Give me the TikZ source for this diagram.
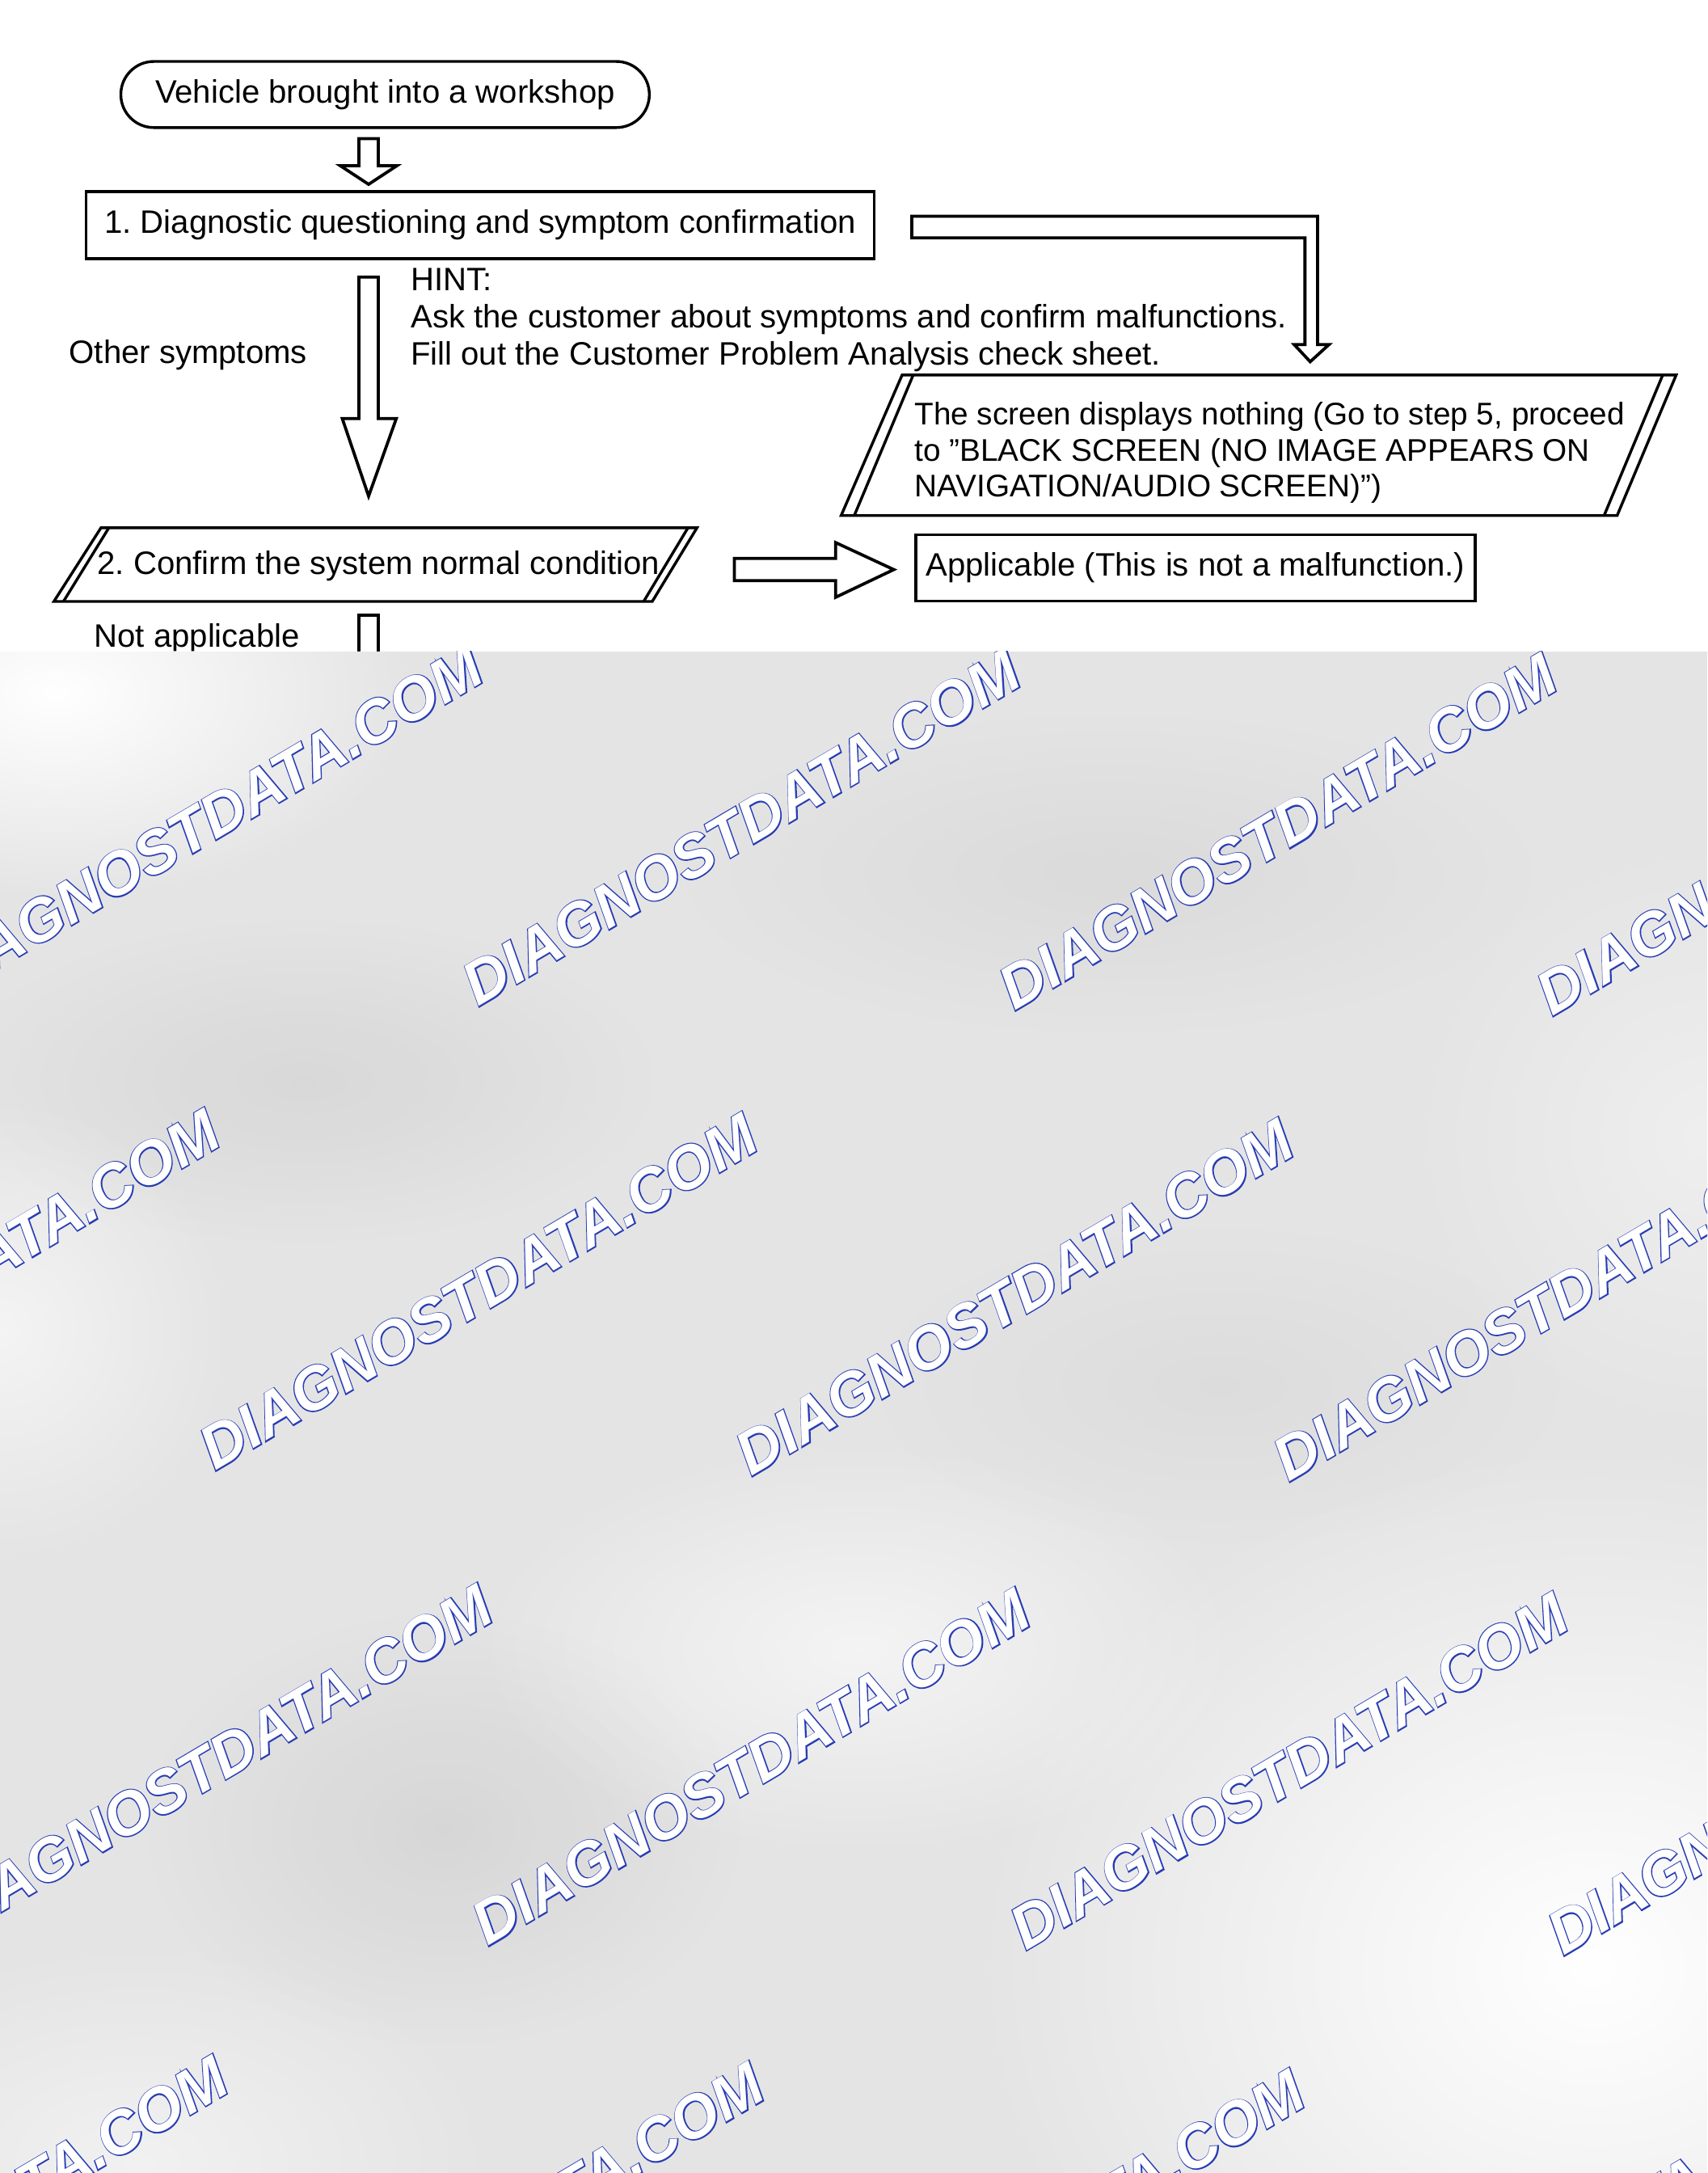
\documentclass[tikz,border=0pt]{standalone}
\usepackage{fontspec}
\setmainfont{Liberation Sans}
\newfontfamily\wmthickfont{Liberation Sans Bold Italic}[FakeBold=3.5]
\newfontfamily\wmthinfont{Liberation Sans Bold Italic}
\usetikzlibrary{fadings}
\tikzfading[name=fuzzyblob, inner color=transparent!0, outer color=transparent!100]
\definecolor{wmblue}{RGB}{40,60,180}
\definecolor{bggray}{RGB}{228,228,228}
\frenchspacing
\begin{document}
\begin{tikzpicture}[x=0.5pt,y=-0.5pt,
  every node/.style={inner sep=0pt, outer sep=0pt},
  txt/.style={font=\fontsize{11.7}{13.2}\selectfont\frenchspacing, text=black},
  boxed/.style={draw=black, line width=1pt, fill=white},
  blockarrow/.style={draw=black, line width=1.1pt, fill=white, line join=miter},
  wmouter/.style={font=\wmthickfont\fontsize{21.8}{22}\selectfont, text=wmblue, rotate=30.6},
  wminner/.style={font=\wmthinfont\fontsize{21.8}{22}\selectfont, text=white, rotate=30.6},
  lightblob/.style={fill=white, path fading=fuzzyblob},
  darkblob/.style={fill=black, path fading=fuzzyblob},
]
\useasboundingbox (0,0) rectangle (1232,1568);
\fill[white] (0,0) rectangle (1232,1568);

% terminal and boxes
\node[boxed, txt, rounded corners=11.9pt, minimum width=190.7pt, minimum height=23.85pt] (term) at (277.9,68.2) {Vehicle brought into a workshop};
\node[boxed, txt, minimum width=284.4pt, minimum height=24.15pt] (step1) at (346.6,162.5) {1. Diagnostic questioning and symptom confirmation};
\node[boxed, txt, minimum width=201.9pt, minimum height=23.95pt] (appl) at (862.7,409.7) {Applicable (This is not a malfunction.)};

% parallelogram: screen displays nothing
\draw[boxed] (651,270.6) -- (1209.6,270.6) -- (1167,372) -- (607,372) -- cycle;
\draw[line width=1pt] (659,270.6) -- (616.5,372) (1199.9,270.6) -- (1157.6,372);
\node[txt, font=\fontsize{11.3}{13}\selectfont, anchor=base west, align=left] (black) at (660,358.5) {The screen displays nothing (Go to step 5, proceed\\to ”BLACK SCREEN (NO IMAGE APPEARS ON\\NAVIGATION/AUDIO SCREEN)”)};

% parallelogram: step 2
\draw[boxed] (72.9,380.8) -- (503,380.8) -- (470.7,434) -- (38.9,434) -- cycle;
\draw[line width=1pt] (78.6,380.8) -- (45.8,434) (496.5,380.8) -- (464.5,434);
\node[txt, anchor=base west] (step2) at (70.4,414.5) {2. Confirm the system normal condition};

% labels
\node[txt, font=\fontsize{11.7}{13.5}\selectfont, anchor=base west, align=left] (hint) at (296.5,263.5) {HINT:\\Ask the customer about symptoms and confirm malfunctions.\\Fill out the Customer Problem Analysis check sheet.};
\node[txt, anchor=base west] (other) at (50,262) {Other symptoms};
\node[txt, anchor=base west] (notappl) at (68,467) {Not applicable};

% block arrows
\draw[blockarrow] (259,100) -- (273,100) -- (273,119.6) -- (286.4,119.6) -- (266,133) -- (245.6,119.6) -- (259,119.6) -- cycle;
\draw[blockarrow] (259,200) -- (273,200) -- (273,302) -- (286,302) -- (266,358) -- (247,302) -- (259,302) -- cycle;
\draw[blockarrow] (658,156) -- (950.8,156) -- (950.8,248.7) -- (959,248.7) -- (945.5,261) -- (934,248.7) -- (941.7,248.7) -- (941.7,171.7) -- (658,171.7) -- cycle;
\draw[blockarrow] (530,403) -- (603,403) -- (603,391.5) -- (645,411) -- (603,431) -- (603,419) -- (530,419) -- cycle;
\draw[blockarrow] (259,480) -- (259,444) -- (273,444) -- (273,480);

% watermark area
\begin{scope}
\clip (0,470) rectangle (1232,1568);
\fill[bggray] (0,470) rectangle (1232,1568);
\fill[lightblob] (40,500) ellipse [x radius=260, y radius=150];
\fill[lightblob] (1150,1420) ellipse [x radius=450, y radius=380];
\fill[lightblob, opacity=0.6] (620,1190) ellipse [x radius=280, y radius=150];
\fill[lightblob, opacity=0.6] (0,960) ellipse [x radius=170, y radius=170];
\fill[lightblob, opacity=0.4] (1232,820) ellipse [x radius=220, y radius=220];
\fill[lightblob, opacity=0.5] (100,1560) ellipse [x radius=260, y radius=160];
\fill[darkblob, opacity=0.06] (320,1320) ellipse [x radius=220, y radius=160];
\fill[darkblob, opacity=0.05] (220,780) ellipse [x radius=260, y radius=120];
\fill[darkblob, opacity=0.04] (800,630) ellipse [x radius=320, y radius=120];
\fill[darkblob, opacity=0.03] (880,1000) ellipse [x radius=260, y radius=120];
\foreach \wx/\wy [count=\i] in {147/594, 535/597, 922/600, 1310/604,
   -43/929, 345/932, 732/936, 1120/940, 1508/944,
   154/1272, 542/1275, 930/1278, 1318/1282,
   -37/1612, 350/1617, 740/1622, 1128/1626} {
  \node[wmouter] (wma\i) at (\wx,\wy) {DIAGNOSTDATA.COM};
  \node[wminner] (wmb\i) at (\wx,\wy) {DIAGNOSTDATA.COM};
}
\end{scope}
\end{tikzpicture}
\end{document}
